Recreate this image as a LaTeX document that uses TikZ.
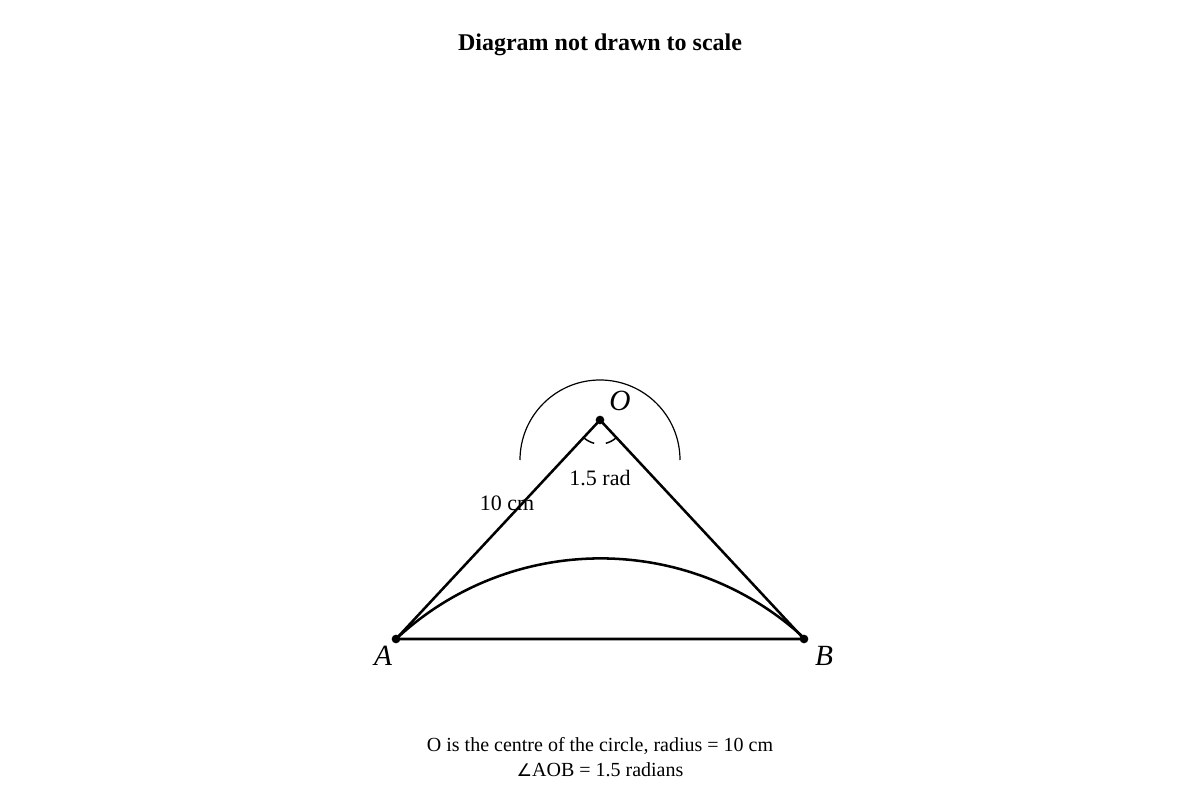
\documentclass[tikz,border=0pt]{standalone}
\usepackage{fontspec}
\setmainfont{Liberation Serif}
\newfontfamily\symfont{DejaVu Sans}
\usepackage{tikz}
\usetikzlibrary{positioning}

\tikzset{
    pt/.style={circle, fill, inner sep=0pt, minimum size=6.5pt},
    lbl/.style={font=\fontsize{16.5}{19}\selectfont},
    note/.style={font=\fontsize{15}{18}\selectfont},
    vlbl/.style={font=\fontsize{22}{25}\selectfont\itshape},
}

\begin{document}
\begin{tikzpicture}[x=0.75pt, y=0.75pt, >=stealth, line width=1.9pt]
                \useasboundingbox (0, 0) rectangle (1200, 800);
                \coordinate (O) at (600, 380);
                \coordinate (A) at (396, 161);
                \coordinate (B) at (804, 161);
                \draw (A) -- (O) -- (B) -- cycle;
                \draw (A) arc[start angle=133, end angle=47, radius=300];
                \draw[line width=0.9pt] (520, 340) arc[start angle=180, end angle=0, radius=80];
                \draw[line width=1.1pt] (O) ++(228:24) arc[start angle=228, end angle=256, radius=24];
                \draw[line width=1.1pt] (O) ++(284:24) arc[start angle=284, end angle=312, radius=24];
                \node[pt] (o) at (O) {};
                \node[pt] (a) at (A) {};
                \node[pt] (b) at (B) {};
                \node[vlbl] (olbl) at (620, 399) {O};
                \node[vlbl] (albl) at (383, 144) {A};
                \node[vlbl] (blbl) at (824, 144) {B};
                \node[lbl] (ang) at (600, 322) {1.5 rad};
                \node[lbl] (rad) at (507, 297) {10 cm};
                \node[font=\fontsize{18}{22}\selectfont\bfseries] (title) at (600, 755) {Diagram not drawn to scale};
                \node[note] (note1) at (600, 54) {O is the centre of the circle, radius = 10 cm};
                \node[note] (note2) at (600, 30) {{\symfont\fontsize{13}{15}\selectfont ∠}AOB = 1.5 radians};
            \end{tikzpicture}
\end{document}
